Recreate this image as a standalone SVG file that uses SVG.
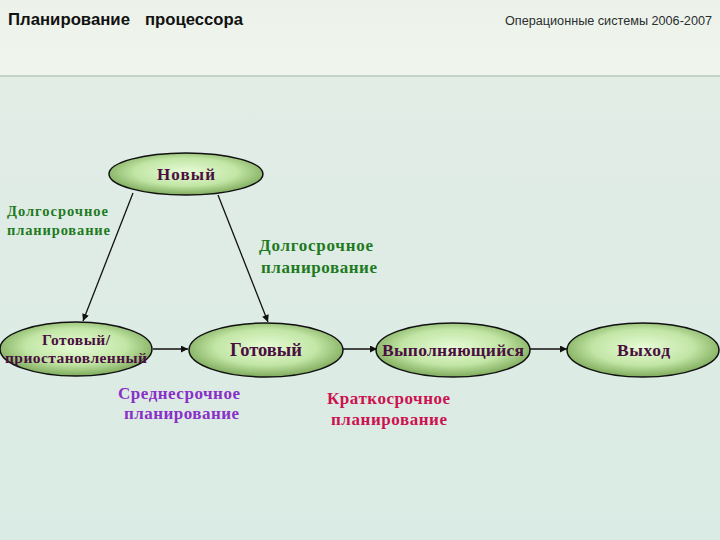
<svg xmlns="http://www.w3.org/2000/svg" width="720" height="540" viewBox="0 0 720 540">
<defs>
<linearGradient id="bg" x1="0" y1="0" x2="0" y2="1">
<stop offset="0" stop-color="#e3ede6"/>
<stop offset="1" stop-color="#d9ebe4"/>
</linearGradient>
<linearGradient id="hdr" x1="0" y1="0" x2="0" y2="1">
<stop offset="0" stop-color="#ecf2ea"/>
<stop offset="1" stop-color="#f0f4ee"/>
</linearGradient>
<radialGradient id="node" cx="0.5" cy="0.45" r="0.6">
<stop offset="0" stop-color="#e6fbd6"/>
<stop offset="0.55" stop-color="#c2e6a6"/>
<stop offset="1" stop-color="#6f9d4a"/>
</radialGradient>
<marker id="arr" viewBox="0 0 10 10" refX="10" refY="5" markerWidth="9" markerHeight="7" markerUnits="userSpaceOnUse" orient="auto">
<path d="M0,0 L10,5 L0,10 z" fill="#111"/>
</marker>
<style>
.n{fill:url(#node);stroke:#111;stroke-width:1.5}
.nt{font-family:"Liberation Serif",serif;font-weight:bold;fill:#4a0f40}
.c{stroke:#111;stroke-width:1.3;fill:none;marker-end:url(#arr)}
.lb{font-family:"Liberation Serif",serif;font-weight:bold;font-size:17px}
.sm{font-size:14.5px}
.g{fill:#1e7a1e}
.v{fill:#8a2fc8}
.r{fill:#cc1250}
</style>
</defs>
<rect width="720" height="540" fill="url(#bg)"/>
<rect width="720" height="75" fill="url(#hdr)"/>
<line x1="0" y1="76" x2="720" y2="76" stroke="#c3d4c8" stroke-width="2"/>
<text x="8" y="25" font-family="Liberation Sans, sans-serif" font-weight="bold" font-size="16.5" fill="#111" textLength="122" lengthAdjust="spacingAndGlyphs">Планирование</text>
<text x="145" y="25" font-family="Liberation Sans, sans-serif" font-weight="bold" font-size="16.5" fill="#111" textLength="98" lengthAdjust="spacingAndGlyphs">процессора</text>
<text x="505" y="25" font-family="Liberation Sans, sans-serif" font-size="12" fill="#2a2f30" textLength="207" lengthAdjust="spacingAndGlyphs">Операционные системы 2006-2007</text>

<g id="connectors">
<line class="c" x1="133" y1="193" x2="83" y2="321"/>
<line class="c" x1="218" y1="195" x2="268" y2="322"/>
<line class="c" x1="153" y1="349" x2="188" y2="349"/>
<line class="c" x1="343" y1="349" x2="377" y2="349"/>
<line class="c" x1="530" y1="349" x2="567" y2="349"/>
</g>

<g id="new">
<ellipse class="n" cx="186" cy="174" rx="77" ry="21"/>
<text class="nt" x="157" y="180" font-size="17" textLength="58" lengthAdjust="spacing">Новый</text>
</g>
<g id="suspended">
<ellipse class="n" cx="76" cy="349" rx="76" ry="27"/>
<text class="nt" x="42" y="345" font-size="15.5" textLength="68" lengthAdjust="spacing">Готовый/</text>
<text class="nt" x="5" y="363" font-size="15.5" textLength="142" lengthAdjust="spacing">приостановленный</text>
</g>
<g id="ready">
<ellipse class="n" cx="266" cy="350" rx="77" ry="27"/>
<text class="nt" x="230" y="356" font-size="18.5" textLength="72" lengthAdjust="spacing">Готовый</text>
</g>
<g id="running">
<ellipse class="n" cx="453" cy="350" rx="77" ry="27"/>
<text class="nt" x="382" y="356" font-size="17.5" textLength="142" lengthAdjust="spacing">Выполняющийся</text>
</g>
<g id="exit">
<ellipse class="n" cx="643" cy="350" rx="76" ry="27"/>
<text class="nt" x="617" y="356" font-size="17.5" textLength="53" lengthAdjust="spacing">Выход</text>
</g>

<g id="labels">
<text class="lb sm g" x="7" y="216" textLength="101" lengthAdjust="spacing">Долгосрочное</text>
<text class="lb sm g" x="7" y="235" textLength="103" lengthAdjust="spacing">планирование</text>
<text class="lb g" x="259" y="251" textLength="114" lengthAdjust="spacing">Долгосрочное</text>
<text class="lb g" x="261" y="273" textLength="116" lengthAdjust="spacing">планирование</text>
<text class="lb v" x="118" y="399" textLength="122" lengthAdjust="spacing">Среднесрочное</text>
<text class="lb v" x="124" y="419" textLength="115" lengthAdjust="spacing">планирование</text>
<text class="lb r" x="327" y="404" textLength="123" lengthAdjust="spacing">Краткосрочное</text>
<text class="lb r" x="331" y="425" textLength="116" lengthAdjust="spacing">планирование</text>
</g>
</svg>
